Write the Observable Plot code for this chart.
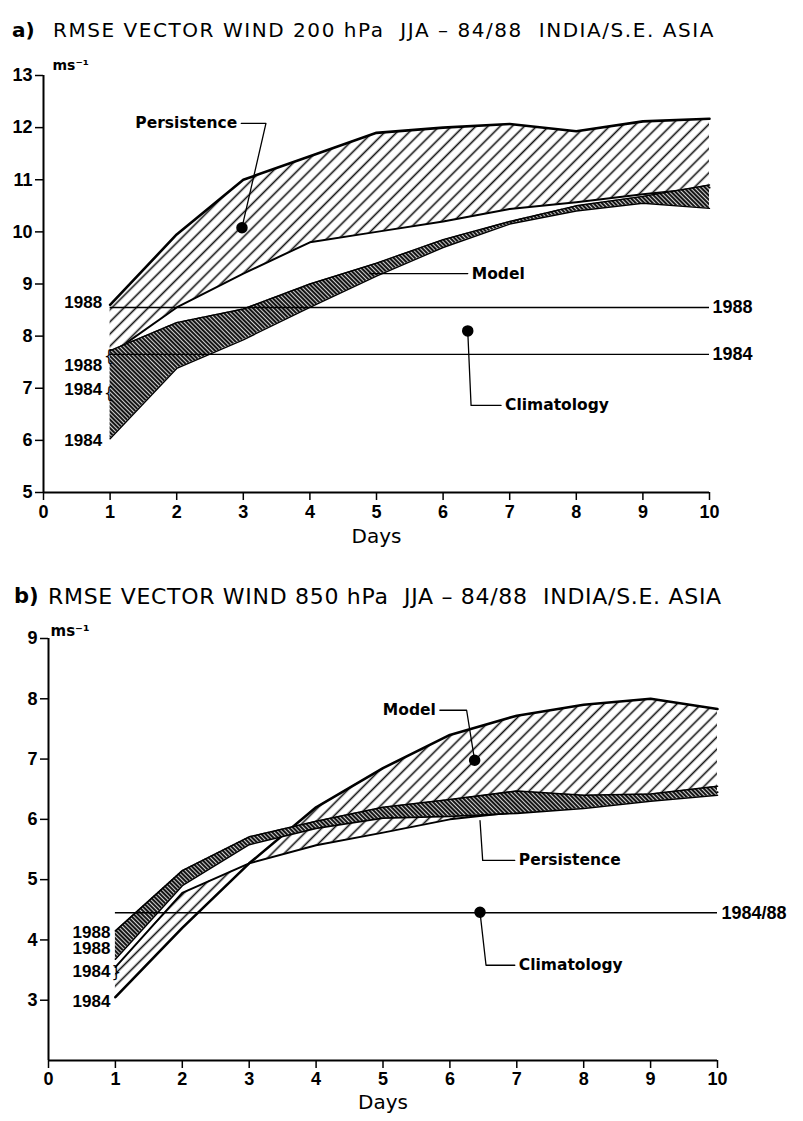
<!DOCTYPE html>
<html><head><meta charset="utf-8">
<script src="https://cdn.jsdelivr.net/npm/d3@7"></script>
<script src="https://cdn.jsdelivr.net/npm/@observablehq/plot@0.6"></script>
<style>
html,body{margin:0;padding:0;background:#fff}
body{width:803px;height:1121px;position:relative;overflow:hidden}
.panel{position:absolute;left:0}
.ttl{position:absolute;white-space:nowrap;font-family:"DejaVu Sans",sans-serif;color:#000;line-height:1}
.tag{position:absolute;white-space:nowrap;font-family:"DejaVu Sans",sans-serif;font-weight:bold;color:#000;line-height:1}
</style></head><body>
<div class="tag" style="left:12px;top:20px;font-size:20px">a)</div>
<div class="ttl" id="tA" style="left:53px;top:20px;font-size:20px">RMSE VECTOR WIND 200 hPa&nbsp; JJA – 84/88&nbsp; INDIA/S.E. ASIA</div>
<div id="pA" class="panel" style="top:0"></div>
<div class="tag" style="left:14px;top:586px;font-size:21px">b)</div>
<div class="ttl" id="tB" style="left:48px;top:586px;font-size:22px">RMSE VECTOR WIND 850 hPa&nbsp; JJA – 84/88&nbsp; INDIA/S.E. ASIA</div>
<div id="pB" class="panel" style="top:560px"></div>
<script>
// ---------- data ----------
const days = [1, 2, 3, 4, 5, 6, 7, 8, 9, 10];
const xTicks = [0, 1, 2, 3, 4, 5, 6, 7, 8, 9, 10];

// a) 200 hPa
const yTicksA = [5, 6, 7, 8, 9, 10, 11, 12, 13];
const persistHiA = [8.6, 9.95, 11.0, 11.45, 11.9, 12.0, 12.07, 11.93, 12.12, 12.17];
const persistLoA = [7.65, 8.55, 9.2, 9.8, 10.0, 10.2, 10.44, 10.57, 10.72, 10.85];
const modelHiA = [7.72, 8.26, 8.52, 9.0, 9.4, 9.85, 10.2, 10.5, 10.68, 10.9];
const modelLoA = [6.03, 7.38, 7.93, 8.55, 9.15, 9.7, 10.15, 10.4, 10.55, 10.45];
const climYearsA = ["1988", "1984"];
const climValuesA = [8.55, 7.65];
const startLabelsA = ["1988", "1988", "1984", "1984"];
const startValuesA = [8.64, 7.43, 6.97, 5.99];
const braceValuesA = [7.62, 6.9];

// b) 850 hPa
const yTicksB = [3, 4, 5, 6, 7, 8, 9];
const modelHiB = [3.05, 4.2, 5.27, 6.2, 6.85, 7.4, 7.72, 7.9, 8.0, 7.83];
const modelLoB = [3.55, 4.78, 5.27, 5.57, 5.78, 6.0, 6.12, 6.22, 6.33, 6.45];
const persistHiB = [4.15, 5.15, 5.71, 5.97, 6.2, 6.33, 6.47, 6.4, 6.42, 6.55];
const persistLoB = [3.68, 4.9, 5.58, 5.85, 6.02, 6.05, 6.1, 6.18, 6.3, 6.4];
const climYearsB = ["1984/88"];
const climValuesB = [4.45];
const startLabelsB = ["1988", "1988", "1984", "1984"];
const startValuesB = [4.13, 3.85, 3.48, 2.98];
const braceValuesB = [3.47];

// annotation anchors (day, value)
const persistLeaderA = {day: [2.97, 3.34, 2.98], v: [12.08, 12.08, 10.08]};
const modelLeaderA = {day: [4.9, 6.37], v: [9.2, 9.2]};
const climLeaderA = {day: [6.37, 6.42, 6.87], v: [8.1, 6.67, 6.67]};
const modelLeaderB = {day: [5.85, 6.25, 6.37], v: [7.81, 7.81, 6.98]};
const persistLeaderB = {day: [6.45, 6.49, 6.97], v: [5.98, 5.32, 5.32]};
const climLeaderB = {day: [6.45, 6.54, 6.97], v: [4.46, 3.58, 3.58]};

// ---------- helpers ----------
const NUM = "Liberation Sans, Arial, sans-serif";
const LBL = "DejaVu Sans, sans-serif";
const pts = (o) => o.day.map((d, i) => ({day: d, v: o.v[i]}));
const intFmt = (d) => String(d);

function addPatterns(svg, id) {
  const ns = "http://www.w3.org/2000/svg";
  const defs = document.createElementNS(ns, "defs");
  defs.innerHTML = `
    <pattern id="${id}-sparse" patternUnits="userSpaceOnUse" width="8.6" height="8.6" patternTransform="rotate(45)">
      <rect width="8.6" height="8.6" fill="#fff"/>
      <line x1="4.3" y1="-1" x2="4.3" y2="10" stroke="#111" stroke-width="1.6"/>
    </pattern>
    <pattern id="${id}-dense" patternUnits="userSpaceOnUse" width="3" height="3" patternTransform="rotate(-45)">
      <rect width="3" height="3" fill="#161616"/>
      <line x1="1.5" y1="-1" x2="1.5" y2="4" stroke="#fff" stroke-width="0.8"/>
    </pattern>`;
  svg.insertBefore(defs, svg.firstChild);
}

function leader(p, label, dot, textAt, anchor) {
  const marks = [Plot.line(pts(p), {x: "day", y: "v", stroke: "#000", strokeWidth: 1.3})];
  if (dot) marks.push(Plot.dot([dot], {x: "day", y: "v", r: 5, fill: "#000", stroke: "#000"}));
  marks.push(Plot.text([label], {x: textAt.day, y: textAt.v, text: d => d, textAnchor: anchor, dx: anchor === "start" ? 4 : -4,
    fontFamily: LBL, fontWeight: "bold", fontSize: 15.5, fill: "#000"}));
  return marks;
}

// ---------- panel a ----------
const rowsA = days.map((d, i) => ({day: d, pHi: persistHiA[i], pLo: persistLoA[i], mHi: modelHiA[i], mLo: modelLoA[i]}));
const climA = climYearsA.map((y, i) => ({year: y, v: climValuesA[i]}));
const startA = startLabelsA.map((t, i) => ({t, v: startValuesA[i]}));

const plotA = Plot.plot({
  width: 803, height: 560,
  marginLeft: 43, marginRight: 94, marginTop: 75, marginBottom: 68,
  x: {domain: [0, 10]}, y: {domain: [5, 13]},
  style: {fontFamily: NUM, fontSize: "18px", color: "#000", background: "transparent", overflow: "visible"},
  marks: [
    Plot.areaY(rowsA, {x: "day", y1: "pLo", y2: "pHi", fill: "url(#a-sparse)"}),
    Plot.line(rowsA, {x: "day", y: "pHi", stroke: "#000", strokeWidth: 2.6}),
    Plot.line(rowsA, {x: "day", y: "pLo", stroke: "#000", strokeWidth: 2}),
    Plot.areaY(rowsA, {x: "day", y1: "mLo", y2: "mHi", fill: "url(#a-dense)"}),
    Plot.line(rowsA, {x: "day", y: "mHi", stroke: "#000", strokeWidth: 1.4}),
    Plot.line(rowsA, {x: "day", y: "mLo", stroke: "#000", strokeWidth: 1.4}),
    Plot.ruleY(climA, {y: "v", x1: 1, x2: 10, stroke: "#000", strokeWidth: 1.4}),
    Plot.text(climA, {x: 10, y: "v", text: "year", textAnchor: "start", dx: 3, fontWeight: "bold", fontSize: 18, fill: "#000"}),
    Plot.text(startA, {x: 1, y: "v", text: "t", textAnchor: "end", dx: -8, fontWeight: "bold", fontSize: 17, fill: "#000"}),
    Plot.text(braceValuesA, {x: 1, y: d => d, text: () => "{", textAnchor: "start", dx: -6, fontFamily: LBL, fontSize: 15, fill: "#000"}),
    ...leader(persistLeaderA, "Persistence", {day: 2.98, v: 10.08}, {day: 2.97, v: 12.08}, "end"),
    ...leader(modelLeaderA, "Model", null, {day: 6.37, v: 9.2}, "start"),
    ...leader(climLeaderA, "Climatology", {day: 6.37, v: 8.1}, {day: 6.87, v: 6.67}, "start"),
    Plot.ruleX([0], {stroke: "#000", strokeWidth: 2}),
    Plot.ruleY([5], {stroke: "#000", strokeWidth: 2}),
    Plot.axisX({ticks: xTicks, tickFormat: intFmt, tickSize: 8, tickPadding: 5, label: null, fontWeight: "bold", fontSize: 18, strokeWidth: 1.5}),
    Plot.axisY({ticks: yTicksA, tickFormat: intFmt, tickSize: 8, tickPadding: 3, label: null, fontWeight: "bold", fontSize: 18, strokeWidth: 1.5}),
    Plot.text(["ms⁻¹"], {frameAnchor: "top-left", dx: 9, dy: -6, lineAnchor: "bottom", textAnchor: "start", fontFamily: LBL, fontWeight: "bold", fontSize: 14, fill: "#000"}),
    Plot.text(["Days"], {frameAnchor: "bottom", dy: 50, fontFamily: LBL, fontSize: 20, fill: "#000"})
  ]
});
addPatterns(plotA, "a");
document.getElementById("pA").append(plotA);

// ---------- panel b ----------
const rowsB = days.map((d, i) => ({day: d, pHi: persistHiB[i], pLo: persistLoB[i], mHi: modelHiB[i], mLo: modelLoB[i]}));
const climB = climYearsB.map((y, i) => ({year: y, v: climValuesB[i]}));
const startB = startLabelsB.map((t, i) => ({t, v: startValuesB[i]}));

const plotB = Plot.plot({
  width: 803, height: 561,
  marginLeft: 48, marginRight: 86, marginTop: 78, marginBottom: 61,
  x: {domain: [0, 10]}, y: {domain: [2, 9]},
  style: {fontFamily: NUM, fontSize: "18px", color: "#000", background: "transparent", overflow: "visible"},
  marks: [
    Plot.areaY(rowsB, {x: "day", y1: "mLo", y2: "mHi", fill: "url(#b-sparse)"}),
    Plot.line(rowsB, {x: "day", y: "mHi", stroke: "#000", strokeWidth: 2.6}),
    Plot.line(rowsB, {x: "day", y: "mLo", stroke: "#000", strokeWidth: 2}),
    Plot.areaY(rowsB, {x: "day", y1: "pLo", y2: "pHi", fill: "url(#b-dense)"}),
    Plot.line(rowsB, {x: "day", y: "pHi", stroke: "#000", strokeWidth: 1.6}),
    Plot.line(rowsB, {x: "day", y: "pLo", stroke: "#000", strokeWidth: 1.6}),
    Plot.ruleY(climB, {y: "v", x1: 1, x2: 10, stroke: "#000", strokeWidth: 1.4}),
    Plot.text(climB, {x: 10, y: "v", text: "year", textAnchor: "start", dx: 4, fontWeight: "bold", fontSize: 18, fill: "#000"}),
    Plot.text(startB, {x: 1, y: "v", text: "t", textAnchor: "end", dx: -5, fontWeight: "bold", fontSize: 17, fill: "#000"}),
    Plot.text(braceValuesB, {x: 1, y: d => d, text: () => "}", textAnchor: "start", dx: -4, fontFamily: LBL, fontSize: 15, fill: "#000"}),
    ...leader(modelLeaderB, "Model", {day: 6.37, v: 6.98}, {day: 5.85, v: 7.81}, "end"),
    ...leader(persistLeaderB, "Persistence", null, {day: 6.97, v: 5.32}, "start"),
    ...leader(climLeaderB, "Climatology", {day: 6.45, v: 4.46}, {day: 6.97, v: 3.58}, "start"),
    Plot.ruleX([0], {stroke: "#000", strokeWidth: 2}),
    Plot.ruleY([2], {stroke: "#000", strokeWidth: 2}),
    Plot.axisX({ticks: xTicks, tickFormat: intFmt, tickSize: 8, tickPadding: 4, label: null, fontWeight: "bold", fontSize: 18, strokeWidth: 1.5}),
    Plot.axisY({ticks: yTicksB, tickFormat: intFmt, tickSize: 8, tickPadding: 3, label: null, fontWeight: "bold", fontSize: 18, strokeWidth: 1.5}),
    Plot.text(["ms⁻¹"], {frameAnchor: "top-left", dx: 2, dy: -3, lineAnchor: "bottom", textAnchor: "start", fontFamily: LBL, fontWeight: "bold", fontSize: 15, fill: "#000"}),
    Plot.text(["Days"], {frameAnchor: "bottom", dy: 48, fontFamily: LBL, fontSize: 20, fill: "#000"})
  ]
});
addPatterns(plotB, "b");
document.getElementById("pB").append(plotB);

// fit title widths to the reference
function fit(id, target) {
  const el = document.getElementById(id);
  const w = el.getBoundingClientRect().width;
  const n = el.textContent.length;
  el.style.letterSpacing = ((target - w) / n).toFixed(2) + "px";
}
fit("tA", 662);
fit("tB", 674);
</script>
</body></html>
